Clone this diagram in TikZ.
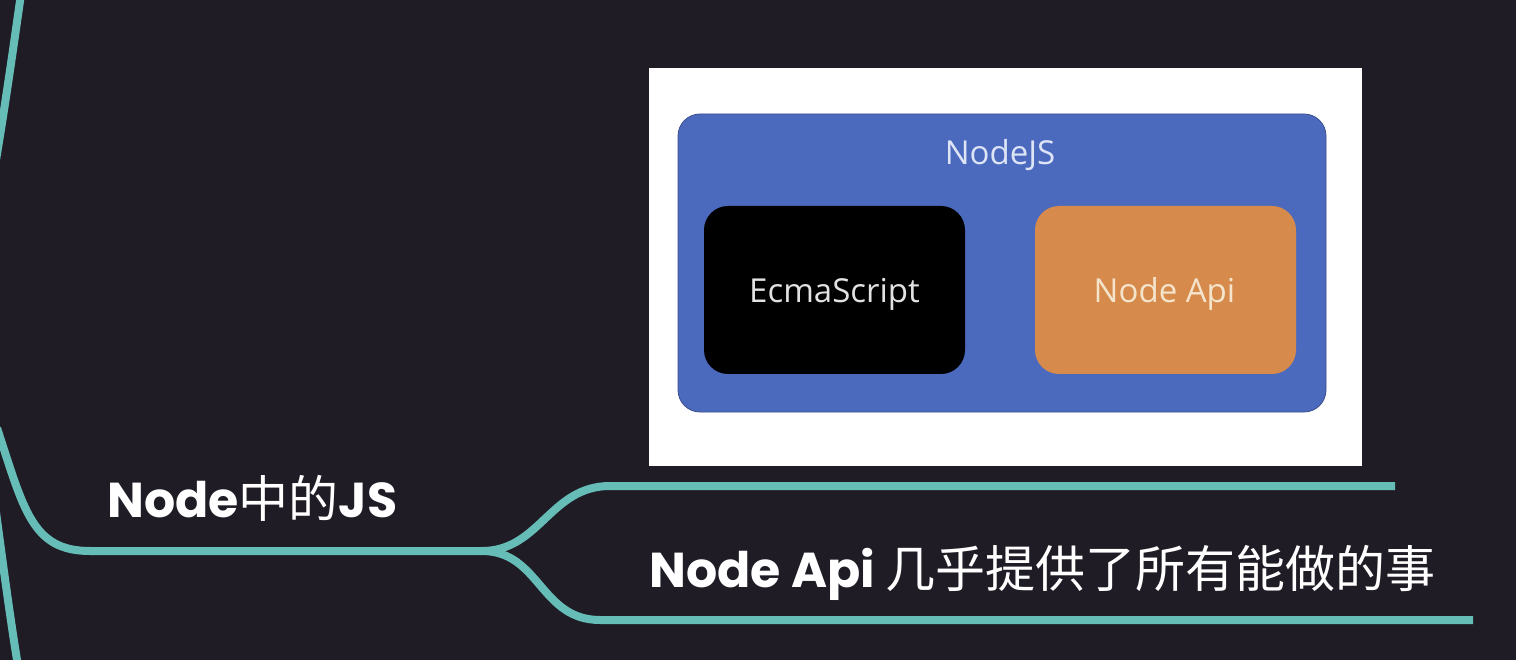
\documentclass[tikz,border=0pt]{standalone}
\usepackage{fontspec}
\newfontfamily\pop{Poppins}
\newfontfamily\osans{Open Sans}
\newfontfamily\cjk{Noto Sans CJK SC}
\definecolor{bg}{HTML}{1F1C25}
\definecolor{teal}{HTML}{66BCB7}
\definecolor{nblue}{HTML}{4C6ABD}
\definecolor{nborder}{HTML}{3A4E8C}
\definecolor{norange}{HTML}{D68A4B}
\definecolor{ntext}{HTML}{DDE4F6}
\definecolor{etext}{HTML}{E2E2E2}
\definecolor{atext}{HTML}{F4E4CC}
\newcommand\latinbold[1]{{\pop\bfseries\fontsize{49}{52}\selectfont #1}}
\newcommand\cjktext[1]{{\cjk\fontsize{50}{54}\selectfont #1}}
\tikzset{
  branch/.style={draw=teal, line width=8pt},
  box/.style={inner sep=0pt, rounded corners=24pt, minimum width=261pt, minimum height=168pt},
  boxlabel/.style={font=\osans\fontsize{33}{36}\selectfont, inner sep=0pt, anchor=base},
  mmlabel/.style={text=white, inner sep=0pt, anchor=base west}
}
\begin{document}
\begin{tikzpicture}[x=1pt,y=-1pt]
\fill[bg] (0,0) rectangle (1516,660);
\useasboundingbox (0,0) rectangle (1516,660);
% picture frame
\node[fill=white, inner sep=0pt, minimum width=713pt, minimum height=398pt] (img) at (1005.5,267) {};
\node[fill=nblue, draw=nborder, line width=0.8pt, inner sep=0pt, rounded corners=22pt,
      minimum width=648pt, minimum height=298pt] (nodejs) at (1002,263) {};
\node[box, fill=black] (ecma) at (834.5,290) {};
\node[box, fill=norange] (api) at (1165.5,290) {};
\node[boxlabel, text=ntext] (tnodejs) at (1000,165) {NodeJS};
\node[boxlabel, text=etext] (tecma) at (834.5,303) {EcmaScript};
\node[boxlabel, text=atext] (tapi) at (1164.5,303) {Node Api};
% mind map branches
\coordinate (t0) at (21,-6);
\coordinate (t1) at (-4,160);
\draw[branch] (t0) .. controls (13,50) and (6,100) .. (t1);
\coordinate (m0) at (-3,428);
\coordinate (m1) at (90,551);
\coordinate (j) at (482,551);
\draw[branch] (m0) .. controls (24,510) and (32,551) .. (m1) -- (j);
\coordinate (b0) at (-4,512);
\coordinate (b1) at (18,666);
\draw[branch] (b0) .. controls (5,580) and (12,630) .. (b1);
\coordinate (u1) at (610,486);
\coordinate (u2) at (1395,486);
\draw[branch] (j) .. controls (540,551) and (550,486) .. (u1) -- (u2);
\coordinate (l1) at (600,620);
\coordinate (l2) at (1473,620);
\draw[branch] (j) .. controls (540,551) and (540,620) .. (l1) -- (l2);
% labels
\node[mmlabel] (n1) at (107,517) {\latinbold{Node}\cjktext{中的}\latinbold{JS}};
\node[mmlabel] (n2) at (649,587) {\latinbold{Node Api}\latinbold{ }\cjktext{几乎提供了所有能做的事}};
\end{tikzpicture}
\end{document}
